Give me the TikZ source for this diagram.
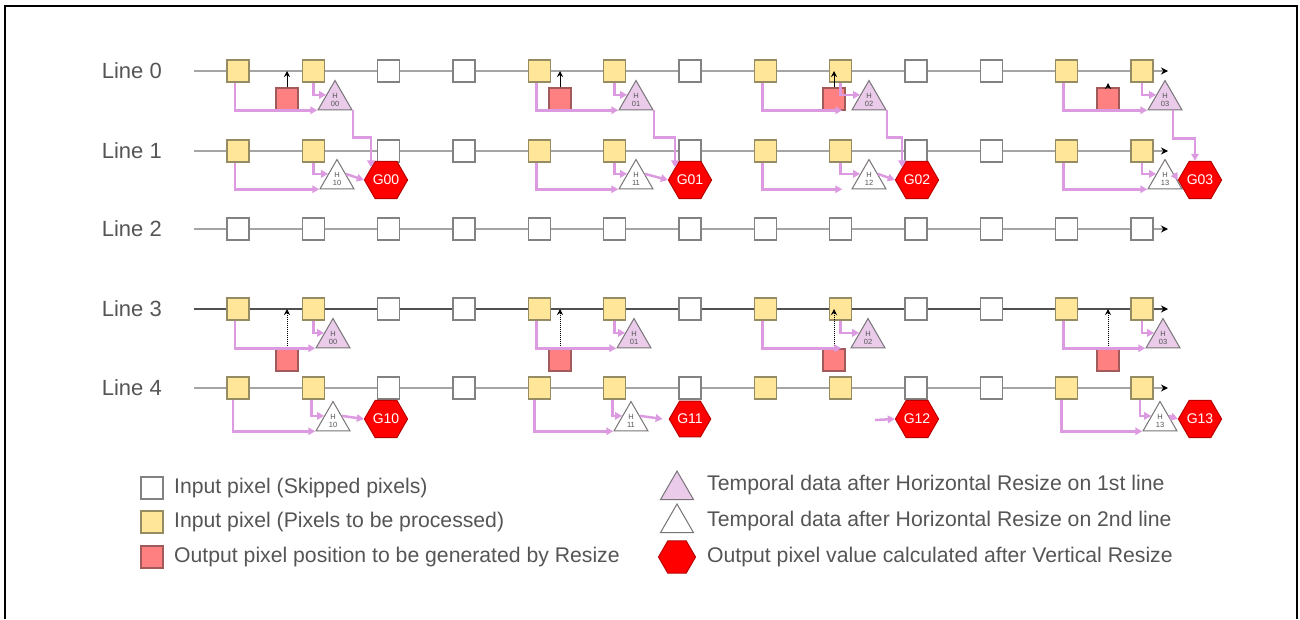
\documentclass[tikz,border=0pt]{standalone}
\usepackage{fontspec}
\setmainfont{Liberation Sans}
\usetikzlibrary{shapes.geometric, arrows.meta}

\definecolor{txtgray}{RGB}{85,85,85}
\definecolor{linegray}{RGB}{165,165,165}
\definecolor{linedark}{RGB}{80,80,80}
\definecolor{boxgray}{RGB}{130,130,130}
\definecolor{pixyel}{RGB}{255,230,153}
\definecolor{yelbord}{RGB}{150,140,100}
\definecolor{pixred}{RGB}{255,128,128}
\definecolor{redbord}{RGB}{160,90,90}
\definecolor{hpink}{RGB}{234,204,234}
\definecolor{trigray}{RGB}{120,115,120}
\definecolor{flowpink}{RGB}{220,155,224}
\definecolor{gbord}{RGB}{185,0,0}

\begin{document}
\begin{tikzpicture}[x=1pt, y=-1pt, >={Stealth[length=6pt, width=6pt]},
        font=\fontsize{22}{26}\selectfont, text=txtgray,
        skipbox/.style={draw=boxgray, line width=1.5pt, fill=white,
                        minimum size=22pt, inner sep=0pt},
        procbox/.style={skipbox, draw=yelbord, fill=pixyel},
        outbox/.style={skipbox, draw=redbord, fill=pixred},
        hfirst/.style={regular polygon, regular polygon sides=3,
                       minimum size=39pt, inner sep=0pt, draw=trigray,
                       line width=1pt, fill=hpink, align=center,
                       font=\fontsize{7.5}{7.5}\selectfont},
        hsecond/.style={hfirst, fill=white},
        gout/.style={regular polygon, regular polygon sides=6,
                     minimum size=37pt, inner sep=0pt, draw=gbord,
                     line width=1pt, fill=red, text=white,
                     font=\fontsize{14}{14}\selectfont},
        rowline/.style={-{Stealth[length=7pt, width=7pt, black]},
                        line width=2pt, draw=linegray},
        flow/.style={-{Stealth[length=7pt, width=7.5pt, inset=0pt]},
                     line width=2.5pt, draw=flowpink},
        lineno/.style={anchor=east, inner sep=0pt},
        legtext/.style={anchor=west, inner sep=0pt,
                        font=\fontsize{21.2}{25}\selectfont}]
      \useasboundingbox (0,0) rectangle (1300,619);
      % Frame
      \draw[line width=2pt] (5,619) -- (5,6) -- (1297,6) -- (1297,619);
      % Lines
      \foreach \r/\y in {0/71,1/151,2/229,3/309,4/388} {
        \coordinate (ls\r) at (194,\y);
        \coordinate (le\r) at (1168,\y);
        \node[lineno] (lbl\r) at (162,\y) {Line \r};
      }
      \foreach \r in {0,1,2,4}
        \draw[rowline] (ls\r) -- (le\r);
      \draw[rowline, draw=linedark] (ls3) -- (le3);
      % Input pixels
      \foreach \r/\y in {0/71,1/151,3/309,4/388} {
        \foreach \c in {2,3,6,9,10}
          \node[skipbox] (p\r-\c) at ({238+75.33*\c},\y) {};
        \foreach \c in {0,1,4,5,7,8,11,12}
          \node[procbox] (p\r-\c) at ({238+75.33*\c},\y) {};
      }
      \foreach \c in {0,...,12}
        \node[skipbox] (p2-\c) at ({238+75.33*\c},229) {};
      % Output positions
      \foreach \k/\x in {0/287,1/560,2/834,3/1108} {
        \node[outbox] (ra\k) at (\x,99) {};
        \node[outbox] (rc\k) at (\x,360) {};
      }
      \coordinate (ta3) at (1108,83);
      \foreach \k in {0,1,2}
        \draw[->, line width=1pt] (ra\k.north) -- (ra\k |- p0-0);
      \draw[->, line width=1pt] (ra3.north) -- (ta3);
      \foreach \k in {0,...,3}
        \draw[->, densely dotted, line width=1pt] (rc\k.north) -- (rc\k |- p3-0);
      % Horizontal resize results
      \foreach \k/\x in {0/335,1/636,2/869,3/1165}
        \node[hfirst] (ha\k) at (\x,100) {H\\0\k};
      \foreach \k/\x in {0/337,1/636,2/869,3/1165}
        \node[hsecond] (hb\k) at (\x,179) {H\\1\k};
      \foreach \k/\x in {0/333,1/634,2/868,3/1163}
        \node[hfirst] (hc\k) at (\x,338) {H\\0\k};
      \foreach \k/\x in {0/333,1/631,3/1160}
        \node[hsecond] (hd\k) at (\x,421) {H\\1\k};
      % Vertical resize results
      \foreach \k/\x in {0/386,1/690,2/917,3/1200} {
        \node[gout] (g0\k) at (\x,180) {G0\k};
        \node[gout] (g1\k) at (\x,419) {G1\k};
      }
      % Flows to H
      \foreach \r/\h in {0/ha,1/hb,3/hc} {
        \foreach \k/\a/\b in {0/0/1,1/4/5,3/11/12} {
          \draw[flow] ([xshift=-3pt]p\r-\a.south) |- (\h\k.corner 2);
          \draw[flow] (p\r-\b.south) |- (\h\k.150);
        }
        \draw[flow] ([xshift=-3pt]p\r-7.south) |- ([xshift=-9pt]\h2.corner 2);
        \draw[flow] (p\r-8.south) |- (\h2.150);
      }
      \foreach \k/\a/\b in {0/0/1,1/4/5,3/11/12} {
        \draw[flow] ([xshift=-5pt]p4-\a.south) |- (hd\k.corner 2);
        \draw[flow] ([xshift=-2pt]p4-\b.south) |- (hd\k.150);
      }
      % Flows to G
      \foreach \k in {0,1,2}
        \draw[flow] (ha\k.corner 3) -- ++(0,27) -| (g0\k.140);
      \draw[flow] ([xshift=8pt]ha3.south) -- ++(0,28) -| ([xshift=-5pt]g03.north);
      \foreach \k in {0,...,3}
        \draw[flow] (hb\k.30) -- (g0\k.west);
      \coordinate (c12) at (875,420);
      \draw[flow] (hd0.30) -- (g10.west);
      \draw[flow] (hd1.30) -- ([xshift=-6pt]g11.west);
      \draw[flow] (c12) -- (g12.west);
      \draw[flow] (hd3.30) -- (g13.west);
      % Legend
      \node[skipbox] (k1) at (152,488) {};
      \node[procbox] (k2) at (152,522) {};
      \node[outbox]  (k3) at (152,557) {};
      \node[legtext] (t1) at (174,488) {Input pixel (Skipped pixels)};
      \node[legtext] (t2) at (174,522) {Input pixel (Pixels to be processed)};
      \node[legtext] (t3) at (174,557) {Output pixel position to be generated by Resize};
      \node[hfirst, minimum size=38pt]  (k4) at (677,490) {};
      \node[hsecond, minimum size=38pt] (k5) at (677,523) {};
      \node[gout] (k6) at (677,557) {};
      \node[legtext] (t4) at (707,485) {Temporal data after Horizontal Resize on 1st line};
      \node[legtext] (t5) at (707,521) {Temporal data after Horizontal Resize on 2nd line};
      \node[legtext] (t6) at (707,557) {Output pixel value calculated after Vertical Resize};
    \end{tikzpicture}
\end{document}
